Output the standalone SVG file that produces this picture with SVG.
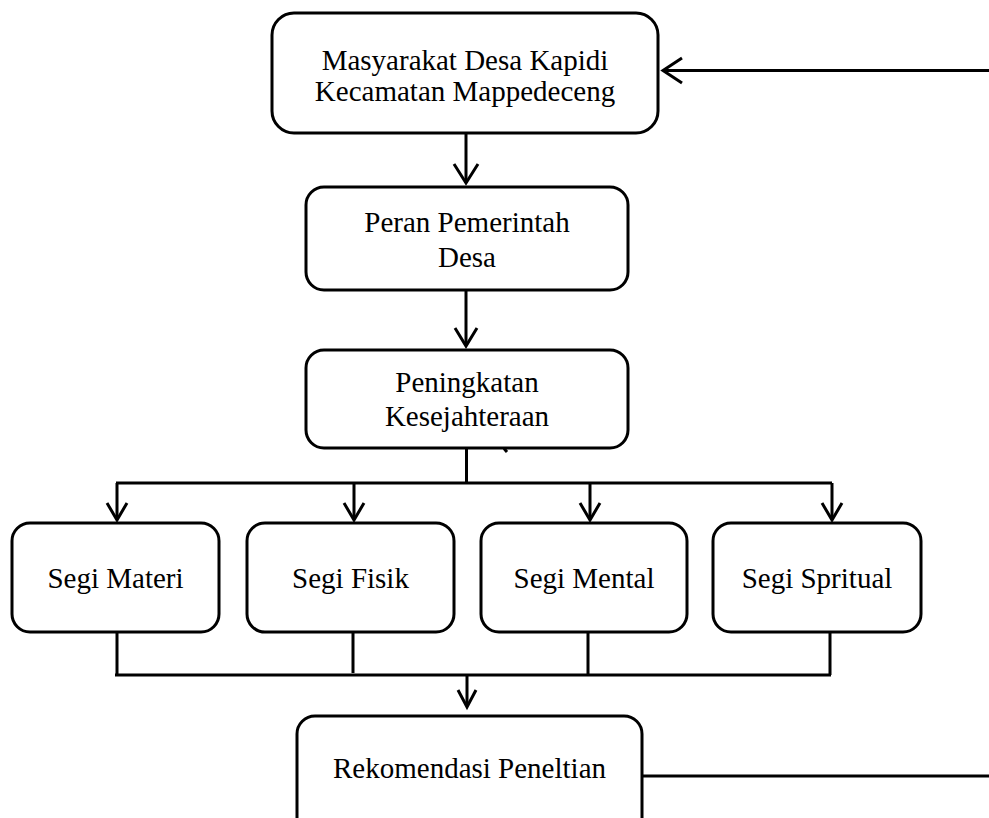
<svg xmlns="http://www.w3.org/2000/svg" width="989" height="818" viewBox="0 0 989 818">
<style>
.box{fill:#fff;stroke:#000;stroke-width:3;}
.ln{fill:none;stroke:#000;stroke-width:3;}
.ah{fill:none;stroke:#000;stroke-width:3;stroke-linejoin:miter;}
text{font-family:"Liberation Serif","Times New Roman",serif;font-size:29px;fill:#000;text-anchor:middle;}
</style>
<rect width="989" height="818" fill="#fff"/>
<g id="connectors">
<path class="ln" d="M466 133 V183"/>
<path class="ah" d="M454 164 L466 183 L478 164"/>
<path class="ln" d="M989 70.5 H664"/>
<path class="ah" d="M682 58 L663 70.5 L682 83"/>
<path class="ln" d="M466 290 V345"/>
<path class="ah" d="M455 328 L466 346 L477 328"/>
<path class="ln" d="M466.5 448 V483 M116 483 H832 M117 483 V519 M354 483 V519 M590 483 V519 M832 483 V519"/>
<path class="ah" d="M107 503 L117 520 L127 503"/>
<path class="ah" d="M344 503 L354 520 L364 503"/>
<path class="ah" d="M580 503 L590 520 L600 503"/>
<path class="ah" d="M822 503 L832 520 L842 503"/>
<path class="ln" d="M504 448.5 L507 452"/>
<path class="ln" d="M117 632 V675 M353 632 V673 M588 632 V675 M830 632 V675 M115 675 H831"/>
<path class="ln" d="M467 675 V706"/>
<path class="ah" d="M458 690 L467 707 L476 690"/>
<path class="ln" d="M642 776 H989"/>
</g>
<g id="n1">
<rect class="box" x="272" y="13" width="386" height="120" rx="22"/>
<text x="465" y="70">Masyarakat Desa Kapidi</text>
<text x="465" y="101">Kecamatan Mappedeceng</text>
</g>
<g id="n2">
<rect class="box" x="306" y="187" width="322" height="103" rx="18"/>
<text x="467" y="232">Peran Pemerintah</text>
<text x="467" y="267">Desa</text>
</g>
<g id="n3">
<rect class="box" x="306" y="350" width="322" height="98" rx="18"/>
<text x="467" y="392">Peningkatan</text>
<text x="467" y="426">Kesejahteraan</text>
</g>
<g id="n4">
<rect class="box" x="12" y="523" width="207" height="109" rx="18"/>
<text x="115.5" y="588">Segi Materi</text>
</g>
<g id="n5">
<rect class="box" x="247" y="523" width="207" height="109" rx="18"/>
<text x="350.5" y="588">Segi Fisik</text>
</g>
<g id="n6">
<rect class="box" x="481" y="523" width="206" height="109" rx="18"/>
<text x="584" y="588">Segi Mental</text>
</g>
<g id="n7">
<rect class="box" x="713" y="523" width="208" height="109" rx="18"/>
<text x="817" y="588">Segi Spritual</text>
</g>
<g id="n8">
<rect class="box" x="297" y="716" width="345" height="120" rx="18"/>
<text x="469.5" y="778">Rekomendasi Peneltian</text>
</g>
</svg>
